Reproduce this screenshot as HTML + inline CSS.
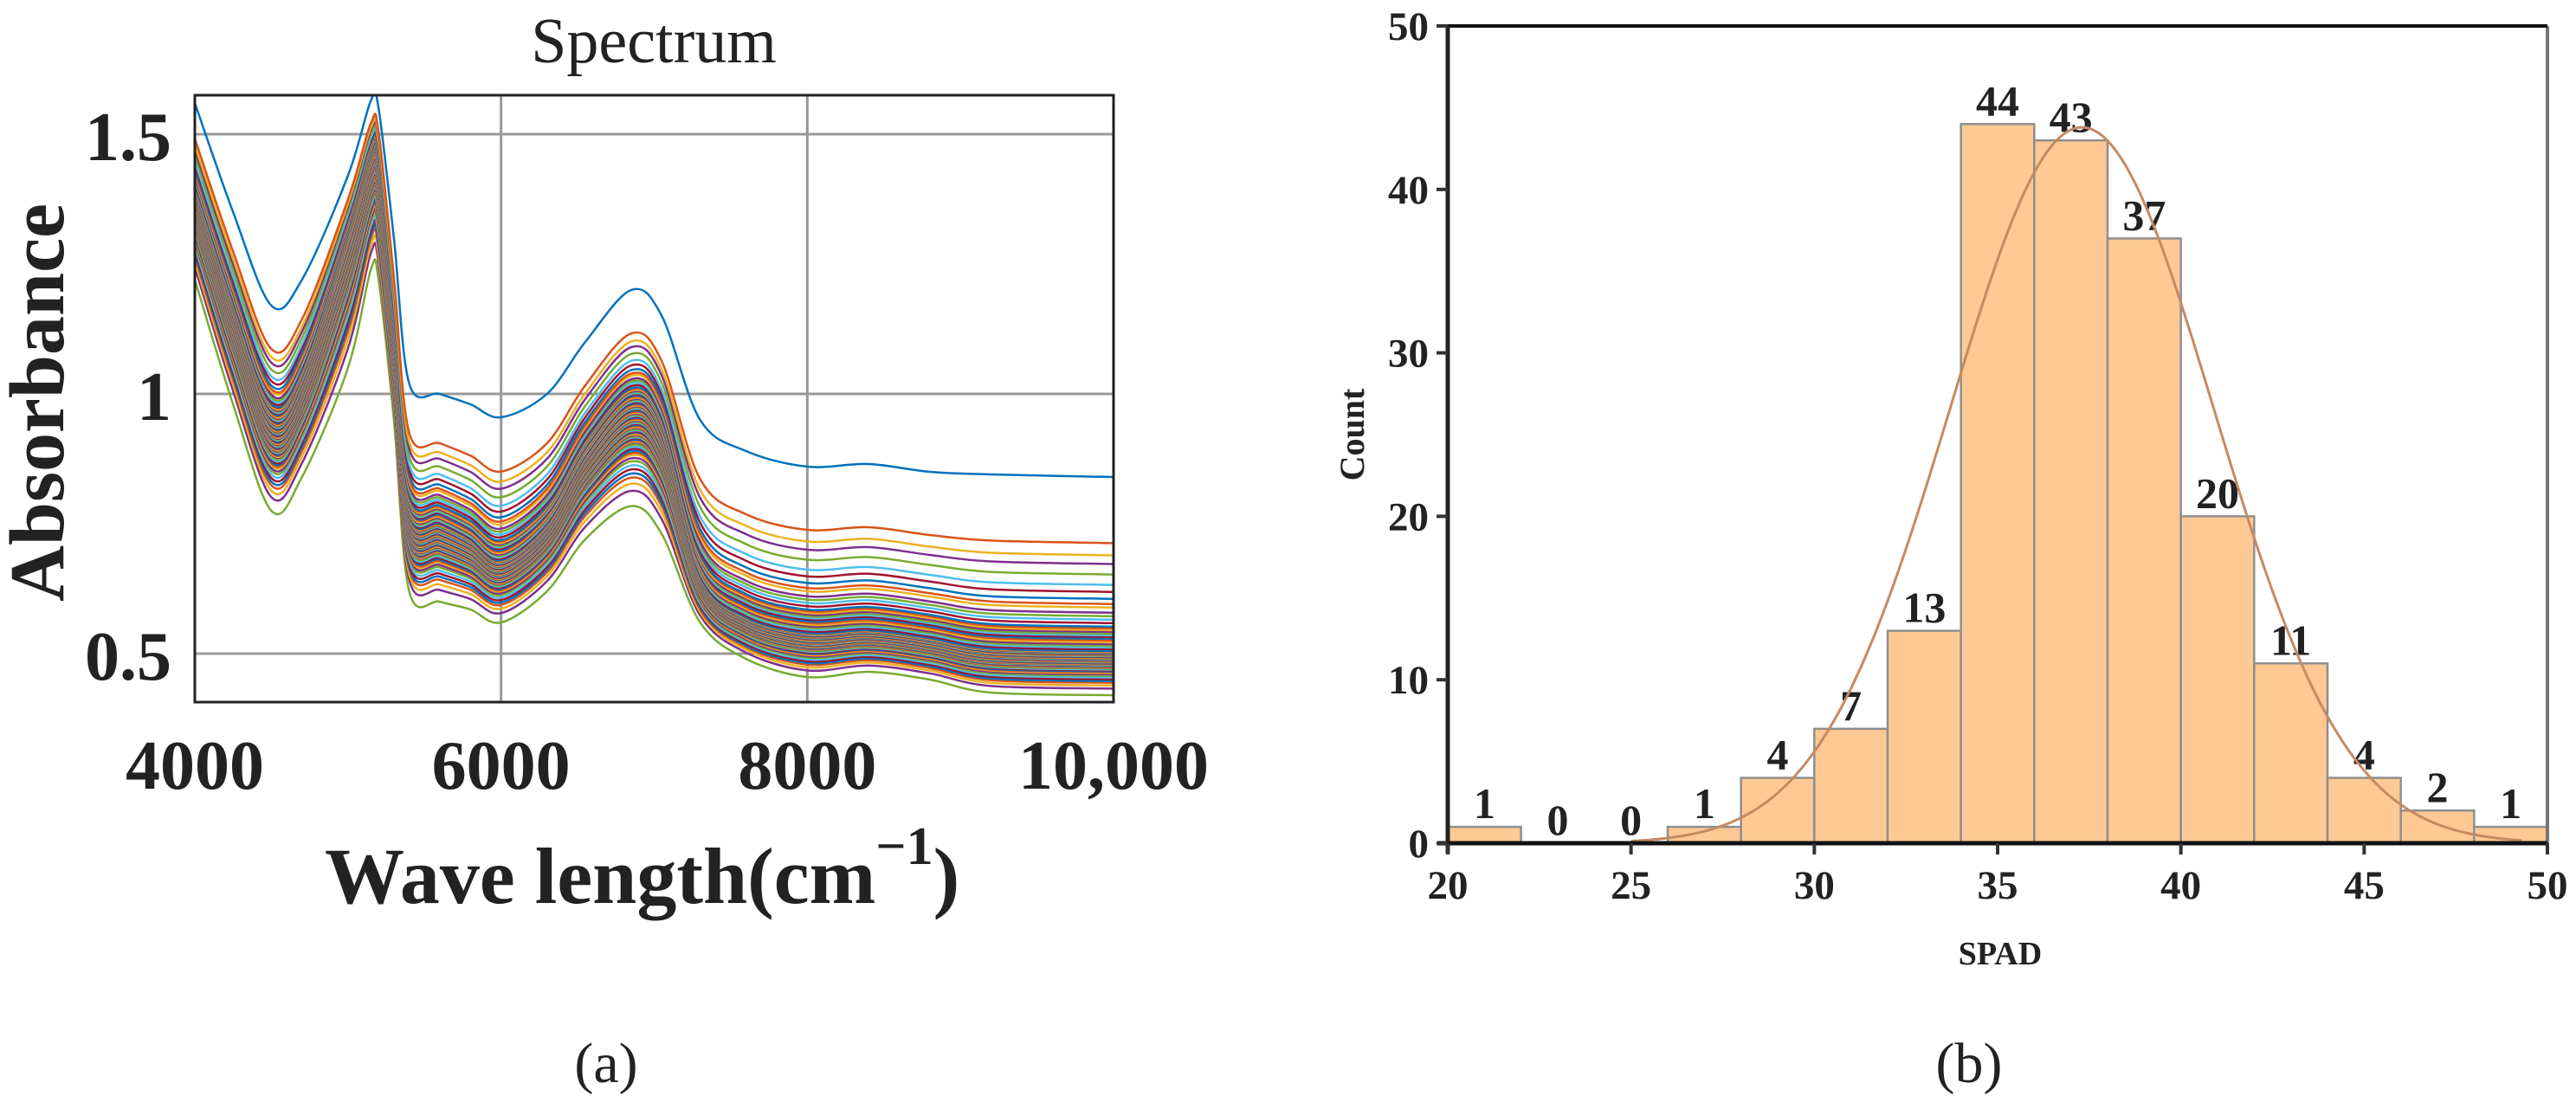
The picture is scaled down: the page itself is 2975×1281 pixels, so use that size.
<!DOCTYPE html>
<html><head><meta charset="utf-8"><style>
html,body{margin:0;padding:0;background:#fff;}
svg{display:block;}
text{font-family:"Liberation Serif",serif;fill:#222;}
</style></head><body>
<svg id="fig" width="2975" height="1281" viewBox="0 0 2975 1281" xmlns="http://www.w3.org/2000/svg">
  <g id="left"></g>
  <g id="right"></g>
</svg>
<script>
// ---------- Spectrum data ----------
const waves = [4000,4250,4500,4700,5000,5150,5200,5300,5400,5600,5800,6000,6300,6550,6850,7050,7300,7600,8000,8400,8800,9200,10000];
const specHigh = [1.56,1.35,1.17,1.22,1.42,1.565,1.55,1.30,1.02,1.00,0.98,0.955,1.00,1.10,1.20,1.15,0.95,0.89,0.86,0.865,0.85,0.845,0.84];
const specMid  = [1.38,1.15,0.95,1.02,1.30,1.45,1.43,1.10,0.77,0.75,0.72,0.68,0.75,0.88,0.98,0.92,0.65,0.57,0.54,0.545,0.53,0.51,0.505];
const specLow  = [1.22,0.98,0.775,0.84,1.05,1.24,1.22,0.95,0.62,0.60,0.585,0.56,0.62,0.72,0.784,0.73,0.56,0.49,0.455,0.465,0.45,0.425,0.42];
// per-spectrum level: -1 = lowest spectrum, 0 = typical, 1 = highest
const specLevels = [1.0,0.62,0.55,0.5,0.44,0.38,0.34,0.3,0.27,0.25,0.22,0.2,0.18,0.16,0.14,0.13,0.12,0.11,0.1,0.09,0.08,0.07,0.06,0.05,0.04,0.03,0.02,0.01,0.0,-0.01,-0.02,-0.03,-0.04,-0.05,-0.06,-0.07,-0.08,-0.09,-0.1,-0.11,-0.12,-0.13,-0.14,-0.15,-0.16,-0.17,-0.18,-0.19,-0.2,-0.21,-0.22,-0.23,-0.24,-0.25,-0.26,-0.27,-0.28,-0.29,-0.3,-0.31,-0.32,-0.33,-0.34,-0.35,-0.36,-0.37,-0.38,-0.4,-0.42,-0.44,-0.46,-0.48,-0.5,-0.53,-0.56,-0.6,-0.64,-0.68,-0.72,-0.78,-0.85,-1.0];
const specColors = ["#0072BD","#D95319","#EDB120","#7E2F8E","#77AC30","#4DBEEE","#A2142F"];
const xTicks = [4000,6000,8000,10000];
const xTickLabels = ["4000","6000","8000","10,000"];
const yTicks = [0.5,1,1.5];
const yTickLabels = ["0.5","1","1.5"];

// ---------- Histogram data ----------
const binStarts = [20,22,24,26,28,30,32,34,36,38,40,42,44,46,48];
const binCounts = [1,0,0,1,4,7,13,44,43,37,20,11,4,2,1];
const binWidth = 2;
const hxTicks = [20,25,30,35,40,45,50];
const hyTicks = [0,10,20,30,40,50];
const fitMean = [37.3];
const fitSigma = [3.6];
const fitPeak = [43.8];

const NS="http://www.w3.org/2000/svg";
function el(tag, attrs, parent, txt){const e=document.createElementNS(NS,tag);for(const k in attrs)e.setAttribute(k,attrs[k]);if(txt!==undefined)e.textContent=txt;parent.appendChild(e);return e;}

// ===== Left chart =====
const L = document.getElementById('left');
const lx0=225,lx1=1286,ly0=110,ly1=811;
const sx = v => lx0 + (v-4000)/6000*(lx1-lx0);
const sy = v => 455 - (v-1)*600;
xTicks.forEach((t,i)=>{ if(i>0&&i<xTicks.length-1){const g=el('line',{x1:sx(t),x2:sx(t),y1:ly0,y2:ly1,stroke:'#999','stroke-width':3},L);

}});
yTicks.forEach(t=>{const g=el('line',{x1:lx0,x2:lx1,y1:sy(t),y2:sy(t),stroke:'#999','stroke-width':3},L);

});
const defs=el('defs',{},L);
const cp=el('clipPath',{id:'clipL'},defs);
el('rect',{x:lx0,y:ly0,width:lx1-lx0,height:ly1-ly0},cp);
const lines=el('g',{'clip-path':'url(#clipL)'},L);


function catmull(pts){let d='M'+pts[0][0].toFixed(1)+','+pts[0][1].toFixed(1);
 for(let i=0;i<pts.length-1;i++){const p0=pts[Math.max(0,i-1)],p1=pts[i],p2=pts[i+1],p3=pts[Math.min(pts.length-1,i+2)];
  const c1=[p1[0]+(p2[0]-p0[0])/6,p1[1]+(p2[1]-p0[1])/6],c2=[p2[0]-(p3[0]-p1[0])/6,p2[1]-(p3[1]-p1[1])/6];
  d+=' C'+c1[0].toFixed(1)+','+c1[1].toFixed(1)+' '+c2[0].toFixed(1)+','+c2[1].toFixed(1)+' '+p2[0].toFixed(1)+','+p2[1].toFixed(1);}
 return d;}
specLevels.slice().reverse().forEach((t,ri)=>{
  const i=specLevels.length-1-ri;
  const pts=waves.map((w,k)=>{const v=t>=0? specMid[k]+t*(specHigh[k]-specMid[k]) : specMid[k]+(-t)*(specLow[k]-specMid[k]);return [sx(w),sy(v)];});
  const p=el('path',{d:catmull(pts),fill:'none',stroke:specColors[i%specColors.length],'stroke-width':2.5},lines);
  
  
});
const box=el('rect',{x:lx0,y:ly0,width:lx1-lx0,height:ly1-ly0,fill:'none',stroke:'#222','stroke-width':3},L);


xTicks.forEach((t,i)=>{const tx=el('text',{x:sx(t),y:911,'text-anchor':'middle','font-size':80,'font-weight':'bold'},L,xTickLabels[i]);

});
yTicks.forEach((t,i)=>{const tx=el('text',{x:198,y:sy(t)+30,'text-anchor':'end','font-size':80,'font-weight':'bold'},L,yTickLabels[i]);

});
</script>
<script>
(function(){
const L=document.getElementById('left');
function el(tag, attrs, parent, txt){const e=document.createElementNS(NS,tag);for(const k in attrs)e.setAttribute(k,attrs[k]);if(txt!==undefined)e.textContent=txt;parent.appendChild(e);return e;}
const t=el('text',{x:755,y:72,'text-anchor':'middle','font-size':74},L,'Spectrum');


const yl=el('text',{x:0,y:0,'text-anchor':'middle','font-size':90,'font-weight':'bold',transform:'translate(73,465) rotate(-90)'},L,'Absorbance');


const xl=el('text',{x:375,y:1043,'font-size':92,'font-weight':'bold'},L);


el('tspan',{},xl,'Wave length(cm');
el('tspan',{dy:-45,'font-size':62},xl,'−1');
el('tspan',{dy:45},xl,')');
const a=el('text',{x:700,y:1250,'text-anchor':'middle','font-size':66},L,'(a)');


})();

(function(){
const R=document.getElementById('right');
function el(tag, attrs, parent, txt){const e=document.createElementNS(NS,tag);for(const k in attrs)e.setAttribute(k,attrs[k]);if(txt!==undefined)e.textContent=txt;parent.appendChild(e);return e;}
const rx0=1672,rx1=2942,ry0=30,ry1=974;
const hx=v=>rx0+(v-20)/30*(rx1-rx0);
const hy=v=>ry1-v/50*(ry1-ry0);
binStarts.forEach((s,i)=>{
  const c=binCounts[i];
  const r=el('rect',{x:hx(s),y:hy(c),width:hx(s+binWidth)-hx(s),height:ry1-hy(c),fill:'#fec994',stroke:'#8f8f8f','stroke-width':2.5},R);
  
  
  const lb=el('text',{x:(hx(s)+hx(s+binWidth))/2,y:hy(c)-10,'text-anchor':'middle','font-size':50,'font-weight':'bold'},R,String(c));
  
  
});
let d='';
for(let v=25;v<=49.4;v+=0.1){const c=fitPeak[0]*Math.exp(-Math.pow(v-fitMean[0],2)/(2*fitSigma[0]*fitSigma[0]));d+=(d?' L':'M')+hx(v).toFixed(1)+','+hy(c).toFixed(1);}
const fc=el('path',{d:d,fill:'none',stroke:'#c58a63','stroke-width':3},R);


el('line',{x1:rx1,x2:rx1,y1:ry0,y2:ry1,stroke:'#777','stroke-width':4},R);
el('line',{x1:rx0-12,x2:rx1,y1:ry0,y2:ry0,stroke:'#111','stroke-width':4},R);
const ya=el('line',{x1:rx0,x2:rx0,y1:ry0,y2:ry1+12,stroke:'#222','stroke-width':5},R);


const xa=el('line',{x1:rx0-12,x2:rx1,y1:ry1,y2:ry1,stroke:'#111','stroke-width':5},R);


hxTicks.forEach(t=>{el('line',{x1:hx(t),x2:hx(t),y1:ry1,y2:ry1+13,stroke:'#333','stroke-width':4},R);
 const tx=el('text',{x:hx(t),y:1038,'text-anchor':'middle','font-size':47,'font-weight':'bold'},R,String(t));
 
 });
hyTicks.forEach(t=>{el('line',{x1:rx0-13,x2:rx0,y1:hy(t),y2:hy(t),stroke:'#333','stroke-width':4},R);
 const tx=el('text',{x:1650,y:hy(t)+16,'text-anchor':'end','font-size':47,'font-weight':'bold'},R,String(t));
 
 });
const yl=el('text',{x:0,y:0,'text-anchor':'middle','font-size':40,'font-weight':'bold',transform:'translate(1575,502) rotate(-90)'},R,'Count');


const xl=el('text',{x:2310,y:1114,'text-anchor':'middle','font-size':38,'font-weight':'bold'},R,'SPAD');


const b=el('text',{x:2274,y:1250,'text-anchor':'middle','font-size':66},R,'(b)');


})();
</script>
</body></html>
